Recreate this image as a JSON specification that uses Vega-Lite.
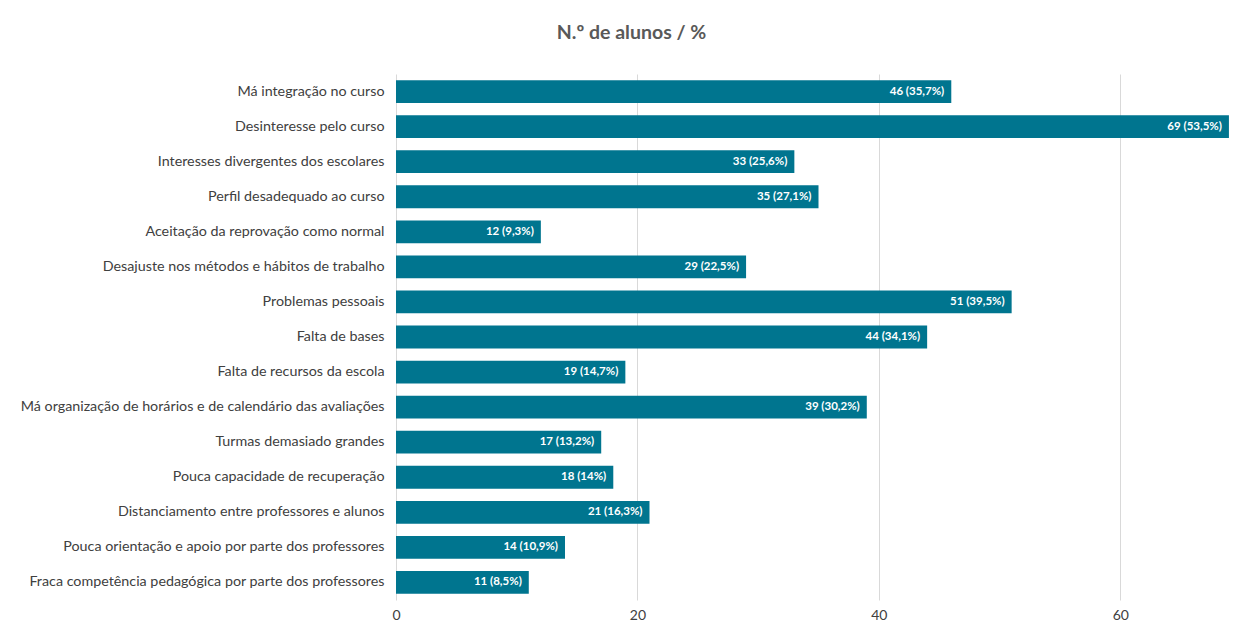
{
  "$schema": "https://vega.github.io/schema/vega-lite/v6.json",
  "autosize": {"type": "none"},
  "width": 845,
  "height": 526,
  "padding": {"left": 396, "top": 74, "right": 1, "bottom": 22},
  "background": "white",
  "title": {
    "text": "N.º de alunos / %",
    "frame": "group",
    "anchor": "middle",
    "dx": -187,
    "offset": 31,
    "font": "Lato",
    "fontSize": 19.5,
    "fontWeight": "bold",
    "color": "#595959"
  },
  "data": {
    "values": [
      {"motivo": "Má integração no curso", "alunos": 46, "pct": 35.7},
      {"motivo": "Desinteresse pelo curso", "alunos": 69, "pct": 53.5},
      {"motivo": "Interesses divergentes dos escolares", "alunos": 33, "pct": 25.6},
      {"motivo": "Perfil desadequado ao curso", "alunos": 35, "pct": 27.1},
      {"motivo": "Aceitação da reprovação como normal", "alunos": 12, "pct": 9.3},
      {"motivo": "Desajuste nos métodos e hábitos de trabalho", "alunos": 29, "pct": 22.5},
      {"motivo": "Problemas pessoais", "alunos": 51, "pct": 39.5},
      {"motivo": "Falta de bases", "alunos": 44, "pct": 34.1},
      {"motivo": "Falta de recursos da escola", "alunos": 19, "pct": 14.7},
      {"motivo": "Má organização de horários e de calendário das avaliações", "alunos": 39, "pct": 30.2},
      {"motivo": "Turmas demasiado grandes", "alunos": 17, "pct": 13.2},
      {"motivo": "Pouca capacidade de recuperação", "alunos": 18, "pct": 14},
      {"motivo": "Distanciamento entre professores e alunos", "alunos": 21, "pct": 16.3},
      {"motivo": "Pouca orientação e apoio por parte dos professores", "alunos": 14, "pct": 10.9},
      {"motivo": "Fraca competência pedagógica por parte dos professores", "alunos": 11, "pct": 8.5}
    ]
  },
  "transform": [
    {"calculate": "datum.alunos + ' (' + replace(format(datum.pct, '.1~f'), '.', ',') + '%)'", "as": "rotulo"}
  ],
  "encoding": {
    "y": {
      "field": "motivo",
      "type": "nominal",
      "sort": null,
      "scale": {"paddingInner": 0.35, "paddingOuter": 0.175},
      "axis": {
        "title": null,
        "domain": false,
        "ticks": false,
        "labelPadding": 12,
        "labelFont": "Lato",
        "labelFontSize": 14.3,
        "labelColor": "#404040",
        "labelLimit": 400
      }
    },
    "x": {
      "field": "alunos",
      "type": "quantitative",
      "scale": {"domain": [0, 70], "nice": false},
      "axis": {
        "title": null,
        "values": [0, 20, 40, 60],
        "domain": false,
        "ticks": false,
        "grid": true,
        "gridColor": "#d9d9d9",
        "gridWidth": 1,
        "labelFlush": false,
        "labelPadding": 8,
        "labelFont": "Lato",
        "labelFontSize": 14,
        "labelColor": "#404040"
      }
    }
  },
  "layer": [
    {"mark": {"type": "bar", "color": "#00758f"}},
    {
      "mark": {
        "type": "text",
        "align": "right",
        "baseline": "middle",
        "dx": -7,
        "font": "Lato",
        "fontSize": 11.5,
        "fontWeight": "bold",
        "color": "white"
      },
      "encoding": {"text": {"field": "rotulo"}}
    }
  ],
  "config": {"view": {"stroke": null}}
}
